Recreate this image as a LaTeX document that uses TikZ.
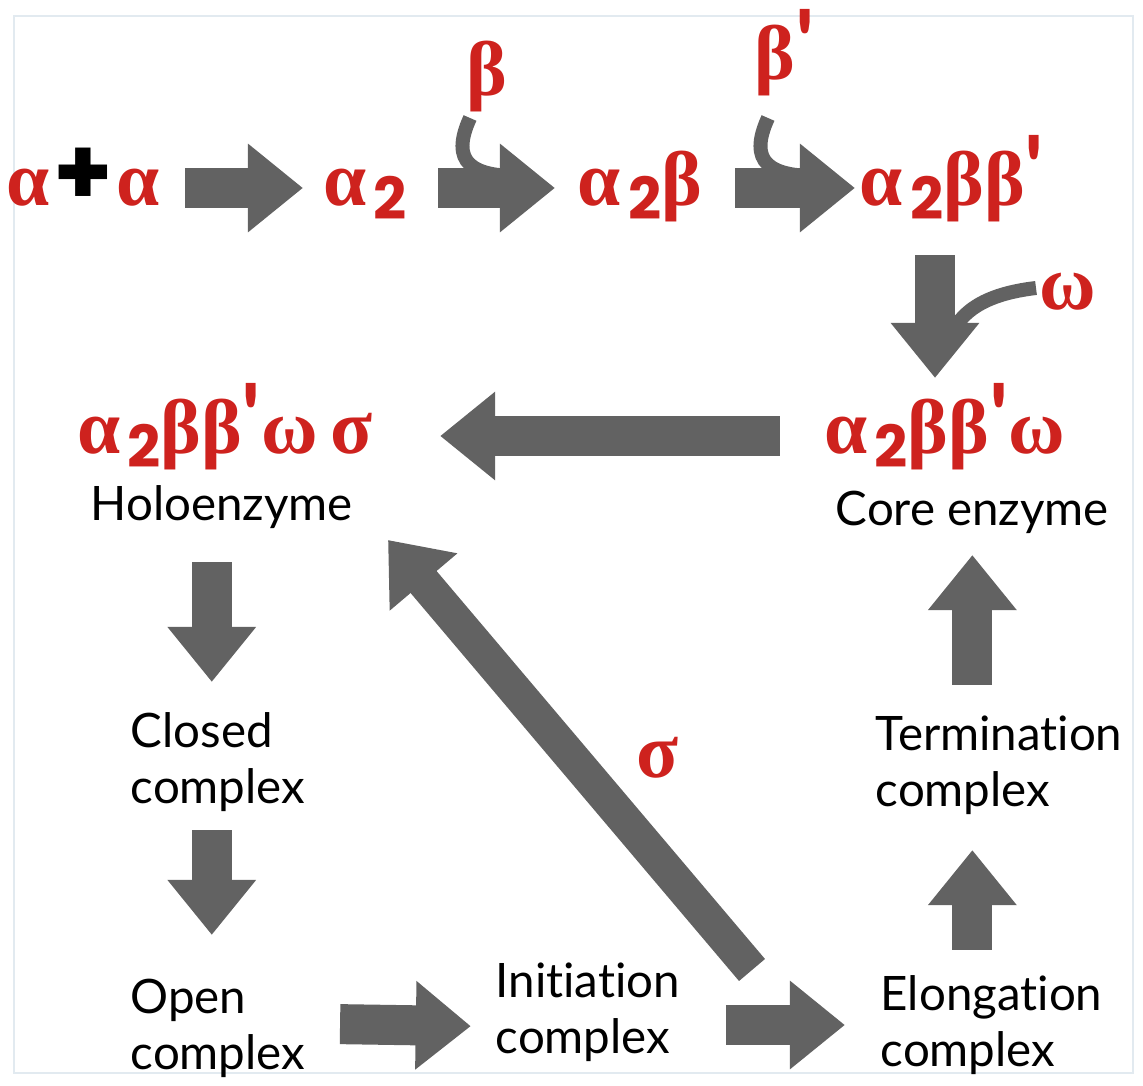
\documentclass[tikz,border=0pt]{standalone}
\usepackage{fontspec}
\setmainfont{Lato}[Ligatures=NoCommon]
\newfontfamily\grk{Liberation Serif}
\newfontfamily\subf{Poppins}
\usepackage{tikz}
\usetikzlibrary{arrows.meta}

\definecolor{subred}{RGB}{206,34,30}
\definecolor{arrgray}{RGB}{98,98,98}
\definecolor{framecol}{RGB}{226,234,240}

\newcommand{\two}{\hspace{2pt}\raisebox{-4pt}{\subf\fontsize{16.5}{16}\selectfont\bfseries 2}}
\newcommand{\prm}{\raisebox{1pt}{\normalfont\fontsize{26}{26}\selectfont\bfseries\textquotesingle}}

\tikzset{
  greek/.style={text=subred, font=\grk\bfseries\fontsize{22}{22}\selectfont, inner sep=0pt, text height=0.5cm, text depth=0.15cm},
  txt/.style={font=\fontsize{13.5}{16}\selectfont, align=left, inner sep=0pt},
  blk/.style={draw=arrgray, line width=0.4cm, -{Triangle[length=0.55cm,width=0.85cm]}},
  curv/.style={draw=arrgray, line width=0.14cm},
}

\begin{document}
\begin{tikzpicture}[x=0.01cm, y=-0.01cm]
    \useasboundingbox (0,0) rectangle (1143,1086);
    \draw[framecol, line width=0.6pt] (14,16) rectangle (1133,1073);

    % assembly of the core
    \node[greek] (aa) at (83,188) {α\hspace{1pt}{\subf\color{black}\fontsize{27}{27}\selectfont\bfseries +}\hspace{1pt}α};
    \node[greek] (a2) at (365,188) {α\two};
    \node[greek] (a2b) at (640,188) {α\two β};
    \node[greek] (a2bb) at (952,188) {α\two ββ\prm};
    \node[greek] (beta) at (487,78) {β};
    \node[greek] (betap) at (785,62) {β\prm};
    \node[greek] (omega) at (1068,292) {ω};

    \node[greek] (coreg) at (945,436) {α\two ββ\prm ω};
    \node[txt, anchor=west] (coret) at (835,512) {Core enzyme};
    \node[greek] (holog) at (225,436) {α\two ββ\prm ω\,σ};
    \node[txt, anchor=west] (holot) at (90,507) {Holoenzyme};
    \node[greek] (sigma) at (658,760) {σ};

    % transcription cycle
    \node[txt, anchor=west] (closed) at (130,762) {Closed\\complex};
    \node[txt, anchor=west] (open) at (130,1028) {Open\\complex};
    \node[txt, anchor=west] (init) at (495,1012) {Initiation\\complex};
    \node[txt, anchor=west] (elong) at (880,1025) {Elongation\\complex};
    \node[txt, anchor=west] (term) at (875,765) {Termination\\complex};

    \draw[blk, shorten <=1.02cm, shorten >=0.62cm] (aa.center) -- (a2.center);
    \draw[blk, shorten <=0.73cm, shorten >=0.85cm] (a2.center) -- (a2b.center);
    \draw[blk, shorten <=0.95cm, shorten >=0.97cm] (a2b.center) -- (a2bb.center);
    \draw[blk, shorten <=0.67cm, shorten >=0.58cm] ([xshift=-0.1cm]coreg.center |- a2bb.center) -- ([xshift=-0.1cm]coreg.center);
    \draw[blk, shorten <=1.65cm, shorten >=2.15cm, yshift=-0.02cm] (coreg.center) -- (holog.center);

    \coordinate (bIn) at (470,118);
    \coordinate (bpIn) at (768,118);
    \coordinate (wIn) at (1036,288);
    \draw[curv] (bIn) .. controls (450,162) and (470,178) .. (528,176);
    \draw[curv] (bpIn) .. controls (748,162) and (768,178) .. (826,176);
    \draw[curv] (wIn) .. controls (985,294) and (955,312) .. (947,348);

    \draw[blk, shorten <=0.55cm, shorten >=0.8cm] ([xshift=-0.1cm]holot.center) -- ([xshift=-0.1cm]holot.center |- closed.center);
    \draw[blk, shorten <=0.68cm, shorten >=0.93cm] ([xshift=-0.1cm]closed.center -| holot.center) -- ([xshift=-0.1cm]open.center -| holot.center);
    \draw[blk, shorten <=1.37cm, shorten >=1.17cm, yshift=0.06cm] (203,1028) -- (open.center -| init.center);
    \draw[blk, shorten <=1.38cm, shorten >=1.45cm] (init.center |- elong.center) -- (elong.center -| 990,0);
    \coordinate (sigIn) at (752,970);
    \coordinate (sigOut) at (388,540);
    \draw[blk, line width=0.34cm] (sigIn) -- (sigOut);
    \draw[blk, shorten <=0.75cm, shorten >=0.85cm] (elong.center -| coret.center) -- (term.center -| coret.center);
    \draw[blk, shorten <=0.8cm, shorten >=0.43cm] (term.center -| coret.center) -- (coret.center);
\end{tikzpicture}
\end{document}
